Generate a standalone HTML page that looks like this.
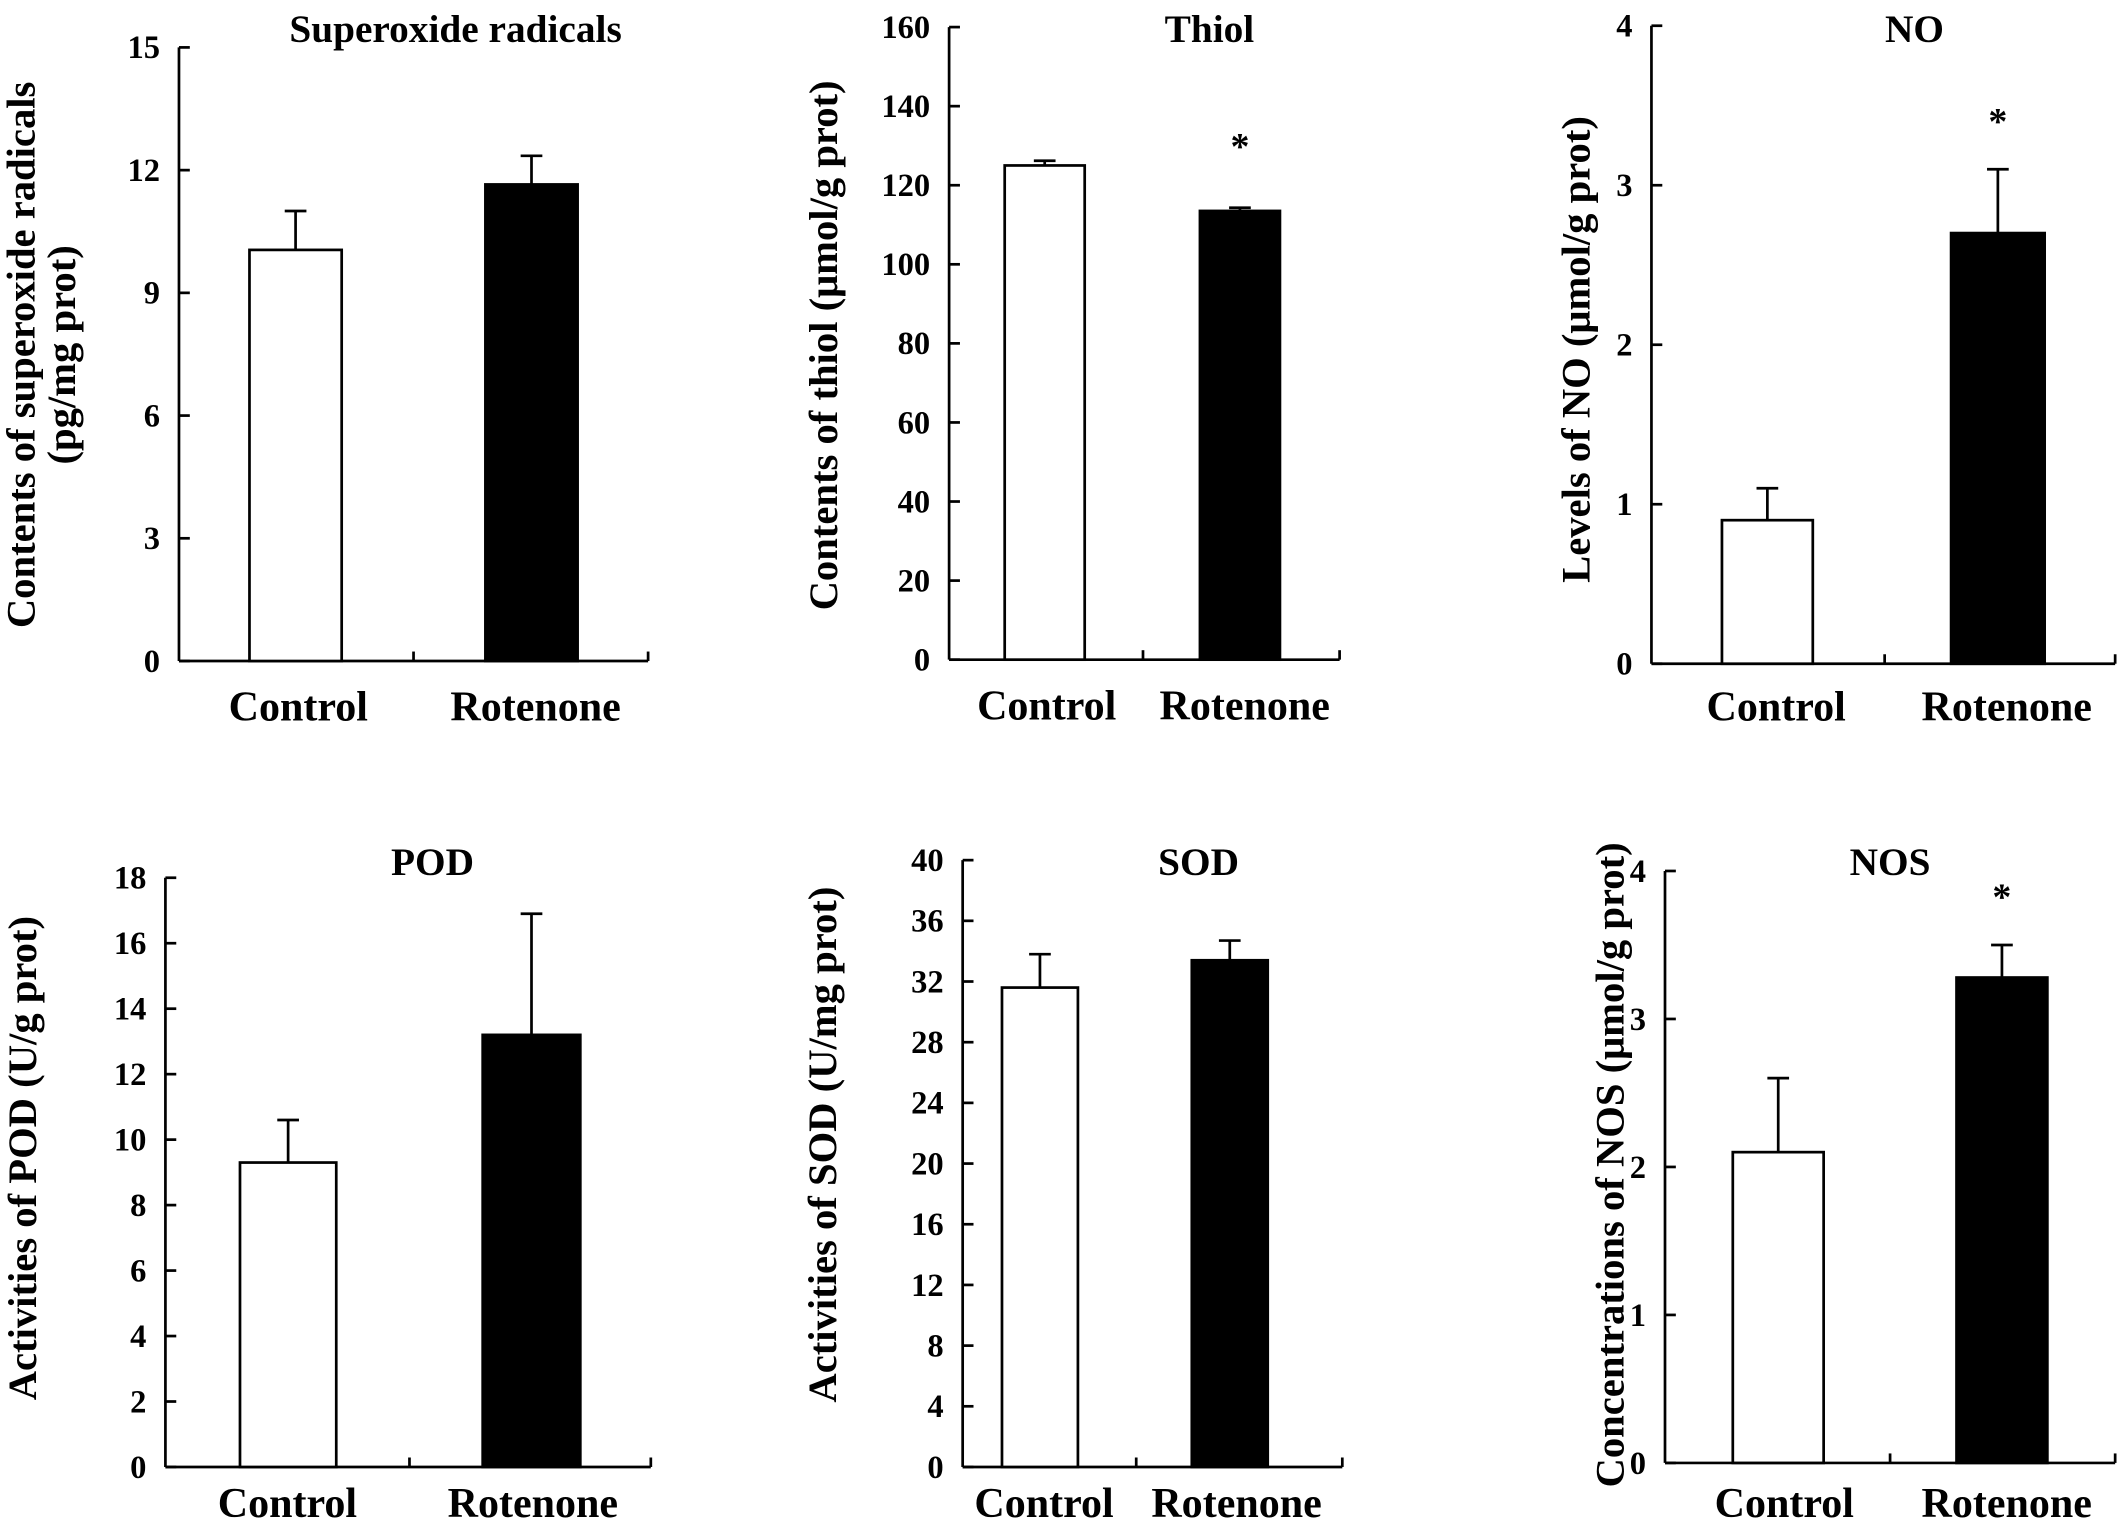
<!DOCTYPE html>
<html><head><meta charset="utf-8"><style>
html,body{margin:0;padding:0;background:#fff;}
svg{display:block;}
text{font-family:"Liberation Serif",serif;font-weight:bold;fill:#000;}
</style></head><body>
<svg id="fig" width="2126" height="1532" viewBox="0 0 1568 1131" preserveAspectRatio="none" xmlns="http://www.w3.org/2000/svg"></svg>
<script>
const categories = ["Control", "Rotenone"];
const superoxideValues = [10.05, 11.65];
const superoxideErrors = [0.95, 0.7];
const superoxideTicks = [0, 3, 6, 9, 12, 15];
const thiolValues = [125, 113.5];
const thiolErrors = [1.2, 0.8];
const thiolTicks = [0, 20, 40, 60, 80, 100, 120, 140, 160];
const noValues = [0.9, 2.7];
const noErrors = [0.2, 0.4];
const noTicks = [0, 1, 2, 3, 4];
const podValues = [9.3, 13.2];
const podErrors = [1.3, 3.7];
const podTicks = [0, 2, 4, 6, 8, 10, 12, 14, 16, 18];
const sodValues = [31.6, 33.4];
const sodErrors = [2.2, 1.3];
const sodTicks = [0, 4, 8, 12, 16, 20, 24, 28, 32, 36, 40];
const nosValues = [2.1, 3.28];
const nosErrors = [0.5, 0.22];
const nosTicks = [0, 1, 2, 3, 4];
const significant = {thiol:[false,true], no:[false,true], nos:[false,true], superoxide:[false,false], pod:[false,false], sod:[false,false]};

const panels = [
 {key:"superoxide", title:"Superoxide radicals", tx:336, ty:31, ylab:["Contents of superoxide radicals","(pg/mg prot)"], ylx:[15,45], yly:262, ax:132, top:35, bot:488, xr:478, bars:[[184,252],[358,426]], tickX:305, lx:[220,395], ly:532, vals:superoxideValues, errs:superoxideErrors, ticks:superoxideTicks, sg:27},
 {key:"thiol", title:"Thiol", tx:892, ty:31, ylab:["Contents of thiol (μmol/g prot)"], ylx:[607], yly:255, ax:700, top:20, bot:487, xr:988, bars:[[741,800],[885,944]], tickX:843, lx:[772,918], ly:531, vals:thiolValues, errs:thiolErrors, ticks:thiolTicks, sg:36},
 {key:"no", title:"NO", tx:1412, ty:31, ylab:["Levels of NO (μmol/g prot)"], ylx:[1162], yly:258, ax:1218, top:19, bot:490, xr:1560, bars:[[1270,1337],[1439,1508]], tickX:1390, lx:[1310,1480], ly:532, vals:noValues, errs:noErrors, ticks:noTicks, sg:26},
 {key:"pod", title:"POD", tx:319, ty:646, ylab:["Activities of POD (U/g prot)"], ylx:[16], yly:855, ax:122, top:648, bot:1083, xr:480, bars:[[177,248],[356,428]], tickX:302, lx:[212,393], ly:1120, vals:podValues, errs:podErrors, ticks:podTicks, sg:27},
 {key:"sod", title:"SOD", tx:884, ty:646, ylab:["Activities of SOD (U/mg prot)"], ylx:[606], yly:845, ax:710, top:635, bot:1083, xr:990, bars:[[739,795],[879,935]], tickX:838, lx:[770,912], ly:1120, vals:sodValues, errs:sodErrors, ticks:sodTicks, sg:27},
 {key:"nos", title:"NOS", tx:1394, ty:646, ylab:["Concentrations of NOS (μmol/g prot)"], ylx:[1187], yly:860, ax:1228, top:643, bot:1080, xr:1560, bars:[[1278,1345],[1443,1510]], tickX:1394, lx:[1316,1480], ly:1120, vals:nosValues, errs:nosErrors, ticks:nosTicks, sg:26}
];
const NS="http://www.w3.org/2000/svg";
const svg=document.getElementById('fig');
function mk(tag, attrs, parent, txt){const e=document.createElementNS(NS,tag);for(const k in attrs)e.setAttribute(k,attrs[k]);if(txt!==undefined)e.textContent=txt;parent.appendChild(e);return e;}
panels.forEach(p=>{
  const g=mk('g',{},svg);
  
  
  const max=p.ticks[p.ticks.length-1];
  const y=v=>p.bot-(v/max)*(p.bot-p.top);
  const t=mk('text',{x:p.tx,y:p.ty,'text-anchor':'middle','font-size':29},g,p.title);
  
  
  p.ylab.forEach((s,i)=>{
    const yl=mk('text',{x:p.ylx[i],y:p.yly,'text-anchor':'middle','font-size':30,transform:`rotate(-90 ${p.ylx[i]} ${p.yly})`,dy:'0.35em'},g,s);
    
    
  });
  const ya=mk('line',{x1:p.ax,y1:p.top,x2:p.ax,y2:p.bot,stroke:'#000','stroke-width':2},g);
  
  
  const xa=mk('line',{x1:p.ax,y1:p.bot,x2:p.xr,y2:p.bot,stroke:'#000','stroke-width':2},g);
  
  
  [p.tickX,p.xr].forEach(tx=>mk('line',{x1:tx,y1:p.bot,x2:tx,y2:p.bot-7,stroke:'#000','stroke-width':2},g));
  p.ticks.forEach(v=>{
    mk('line',{x1:p.ax,y1:y(v),x2:p.ax+8,y2:y(v),stroke:'#000','stroke-width':2},g);
    const tl=mk('text',{x:p.ax-14,y:y(v)+8,'text-anchor':'end','font-size':24},g,String(v));
    
    
  });
  categories.forEach((c,i)=>{
    const [x0,x1]=p.bars[i];const xm=(x0+x1)/2;
    const v=p.vals[i], e=p.errs[i];
    mk('line',{x1:xm,y1:y(v),x2:xm,y2:y(v+e),stroke:'#000','stroke-width':2},g);
    mk('line',{x1:xm-8,y1:y(v+e),x2:xm+8,y2:y(v+e),stroke:'#000','stroke-width':2},g);
    const b=mk('rect',{x:x0,y:y(v),width:x1-x0,height:p.bot-y(v),fill:i?'#000':'#fff',stroke:'#000','stroke-width':2},g);
    
    
    if(significant[p.key][i]){
      const s=mk('text',{x:xm,y:y(v+e)-p.sg,'text-anchor':'middle','font-size':28},g,'*');
      
      
    }
    const l=mk('text',{x:p.lx[i],y:p.ly,'text-anchor':'middle','font-size':31},g,c);
    
    
  });
});
</script>
</body></html>
